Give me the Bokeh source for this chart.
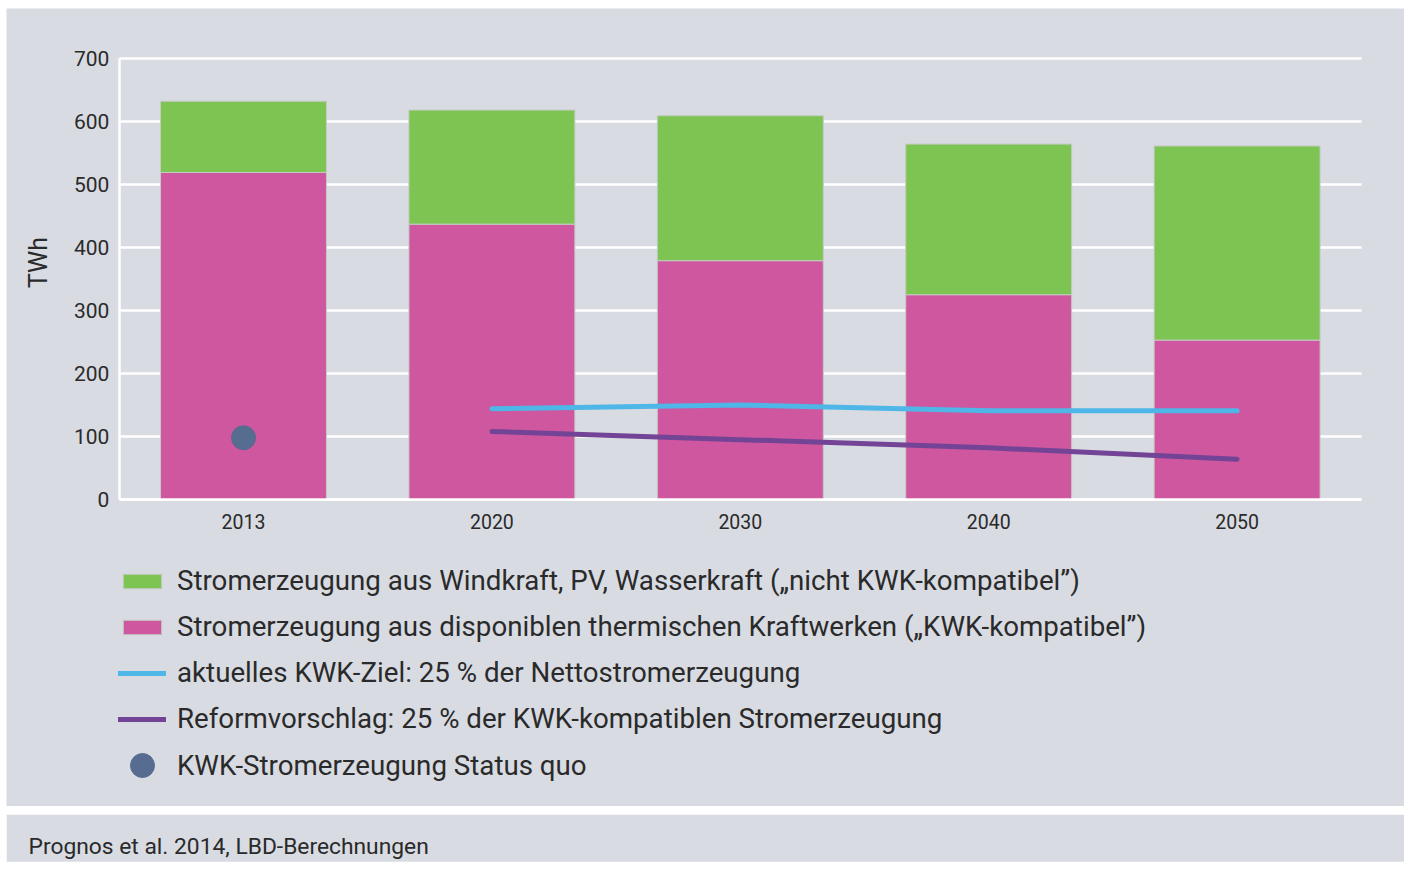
import math
from bokeh.plotting import figure
from bokeh.models import (Range1d, FixedTicker, Legend, LegendItem, Label,
                          ColumnDataSource, Title)
from bokeh.layouts import column
from bokeh.embed import file_html
from bokeh.resources import INLINE

# ---------------- data ----------------
years = ["2013", "2020", "2030", "2040", "2050"]
kwk_kompatibel = [519, 437, 379, 325, 253]          # pink (bottom)
nicht_kwk_kompatibel = [113, 181, 230, 239, 308]    # green (top)
ziel_years = ["2020", "2030", "2040", "2050"]
aktuelles_ziel = [144, 150, 141, 141]
reformvorschlag = [108, 95, 82, 64]
status_quo_year = ["2013"]
status_quo = [98]
y_ticks = [0, 100, 200, 300, 400, 500, 600, 700]

label_green = "Stromerzeugung aus Windkraft, PV, Wasserkraft (\u201enicht KWK-kompatibel\u201d)"
label_pink = "Stromerzeugung aus disponiblen thermischen Kraftwerken (\u201eKWK-kompatibel\u201d)"
label_blue = "aktuelles KWK-Ziel: 25 % der Nettostromerzeugung"
label_purple = "Reformvorschlag: 25 % der KWK-kompatiblen Stromerzeugung"
label_dot = "KWK-Stromerzeugung Status quo"
y_label = "TWh"
source_text = "Prognos et al. 2014, LBD-Berechnungen"

# ---------------- style ----------------
BG = "#d8dbe2"
GREEN = "#7ec452"
PINK = "#ce57a0"
BLUE = "#4fb6e8"
PURPLE = "#734496"
DOT = "#566c90"
TXT = "#2a2a2a"
FONT = "Roboto"

# category positions (index of each year)
xi = list(range(len(years)))
ziel_x = [years.index(y) for y in ziel_years]
sq_x = [years.index(y) for y in status_quo_year]

src = ColumnDataSource(dict(x=xi, pink=kwk_kompatibel, green=nicht_kwk_kompatibel))

# the frame fills the whole panel; axes are placed at fixed data positions
W, H = 1398, 798
p = figure(x_range=Range1d(-0.9541, 4.6739),
           y_range=Range1d(-487.2, 779.2),
           width=W, height=H,
           output_backend="svg", toolbar_location=None,
           min_border=0)
p.background_fill_color = BG
p.border_fill_color = BG
p.outline_line_color = None

r_pink, r_green = p.vbar_stack(["pink", "green"], x="x", width=0.668, source=src,
                               color=[PINK, GREEN], line_color="#c4cbc4",
                               line_width=1)

r_blue = p.line(ziel_x, aktuelles_ziel, line_color=BLUE, line_width=5,
                line_cap="round", line_join="round")
r_purple = p.line(ziel_x, reformvorschlag, line_color=PURPLE, line_width=5,
                  line_cap="round", line_join="round")
r_dot = p.scatter(sq_x, status_quo, size=24, color=DOT)

# axes
x_bounds = (-0.5, len(years) - 0.5)
p.yaxis.ticker = FixedTicker(ticks=y_ticks)
p.yaxis.bounds = (0, 700)
p.yaxis.fixed_location = -0.5
p.xaxis.ticker = FixedTicker(ticks=xi)
p.xaxis.major_label_overrides = {i: y for i, y in zip(xi, years)}
p.xaxis.bounds = x_bounds
p.xaxis.fixed_location = 0
for ax in (p.xaxis[0], p.yaxis[0]):
    ax.axis_line_color = "white"
    ax.axis_line_width = 2.5
    ax.major_tick_line_color = None
    ax.minor_tick_line_color = None
    ax.major_tick_out = 0
    ax.major_tick_in = 0
    ax.minor_tick_out = 0
    ax.minor_tick_in = 0
    ax.major_label_text_font = FONT
    ax.major_label_text_color = TXT
p.yaxis.major_label_text_font_size = "21px"
p.xaxis.major_label_text_font_size = "19.5px"
p.yaxis.major_label_standoff = 10
p.xaxis.major_label_standoff = 15

p.xgrid.grid_line_color = None
p.ygrid.grid_line_color = "white"
p.ygrid.grid_line_width = 2.5
p.ygrid.ticker = FixedTicker(ticks=y_ticks)
p.ygrid.bounds = (0, 700)
p.ygrid.cross_bounds = x_bounds

p.add_layout(Label(x=32, y=H - 254, x_units="screen", y_units="screen",
                   text=y_label, angle=math.pi / 2, text_align="center",
                   text_baseline="alphabetic", text_font=FONT,
                   text_font_size="25px", text_color=TXT))

common = dict(border_line_color=None, background_fill_color=None,
              background_fill_alpha=0, margin=0, padding=0,
              label_text_font=FONT, label_text_font_size="27.7px",
              label_text_color=TXT, label_height=32)

leg1 = Legend(items=[LegendItem(label=label_green, renderers=[r_green]),
                     LegendItem(label=label_pink, renderers=[r_pink]),
                     LegendItem(label=label_blue, renderers=[r_blue]),
                     LegendItem(label=label_purple, renderers=[r_purple])],
              location=(112, 71), glyph_width=48, glyph_height=18,
              label_standoff=11, spacing=13, **common)
leg2 = Legend(items=[LegendItem(label=label_dot, renderers=[r_dot])],
              location=(106, 11), glyph_width=60, glyph_height=60,
              label_standoff=5, **common)
p.add_layout(leg1, "center")
p.add_layout(leg2, "center")

# footer
f = figure(width=W, height=48, x_range=Range1d(0, 1), y_range=Range1d(0, 1),
           output_backend="svg", toolbar_location=None,
           x_axis_type=None, y_axis_type=None,
           min_border_left=0, min_border_right=0, min_border_top=47,
           min_border_bottom=0)
f.background_fill_color = BG
f.border_fill_color = BG
f.outline_line_color = None
f.grid.visible = False
f.title = Title(text=source_text, align="left", offset=22,
                text_font=FONT, text_font_size="22.8px", text_font_style="normal",
                text_color=TXT, standoff=3)

layout = column(p, f, spacing=8, margin=(8, 0, 0, 6))
open("out.html", "w").write(file_html(layout, INLINE))
